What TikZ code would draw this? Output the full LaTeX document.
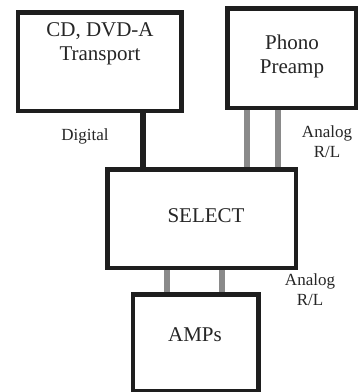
\documentclass[tikz,border=0pt]{standalone}
\usepackage{fontspec}
\setmainfont{Liberation Serif}
\definecolor{boxline}{HTML}{1E1E1E}
\definecolor{analog}{HTML}{8A8A8A}
\begin{document}
\begin{tikzpicture}[x=1pt,y=-1pt,
  unit/.style={draw=boxline,line width=3pt,rectangle,inner sep=0pt,fill=white},
  boxtext/.style={font=\fontsize{21}{24}\selectfont,align=center,text=black!85},
  lbl/.style={font=\fontsize{17}{20}\selectfont,align=center,text=black!85},
  digi/.style={draw=boxline,line width=6pt},
  ana/.style={draw=analog,line width=6.5pt}]
\useasboundingbox[fill=white] (0,0) rectangle (358,392);
\node[unit,minimum width=162pt,minimum height=97pt] (cd) at (99.5,61.5) {};
\node[unit,minimum width=127pt,minimum height=98pt] (ph) at (291.5,58) {};
\node[unit,minimum width=187pt,minimum height=97pt] (sel) at (201.5,218.5) {};
\node[unit,minimum width=124pt,minimum height=95pt] (amp) at (195.5,342.5) {};
\draw[digi] (cd.south -| 143,0) -- (sel.north -| 143,0);
\draw[ana] (ph.south -| 247,0) -- (sel.north -| 247,0);
\draw[ana] (ph.south -| 278,0) -- (sel.north -| 278,0);
\draw[ana] (sel.south -| 167,0) -- (amp.north -| 167,0);
\draw[ana] (sel.south -| 222,0) -- (amp.north -| 222,0);
\draw[boxline,line width=3pt] (cd.south west) rectangle (cd.north east);
\draw[boxline,line width=3pt] (ph.south west) rectangle (ph.north east);
\draw[boxline,line width=3pt] (sel.south west) rectangle (sel.north east);
\draw[boxline,line width=3pt] (amp.south west) rectangle (amp.north east);
\node[boxtext] (cdt) at (100,44) {CD, DVD-A\\Transport};
\node[boxtext] (pht) at (292,56) {Phono\\Preamp};
\node[boxtext] (selt) at (206,216) {SELECT};
\node[boxtext] (ampt) at (195,335) {AMPs};
\node[lbl] (dl) at (85,136) {Digital};
\node[lbl] (al1) at (327,142) {Analog\\R/L};
\node[lbl] (al2) at (310,290) {Analog\\R/L};
\end{tikzpicture}
\end{document}
